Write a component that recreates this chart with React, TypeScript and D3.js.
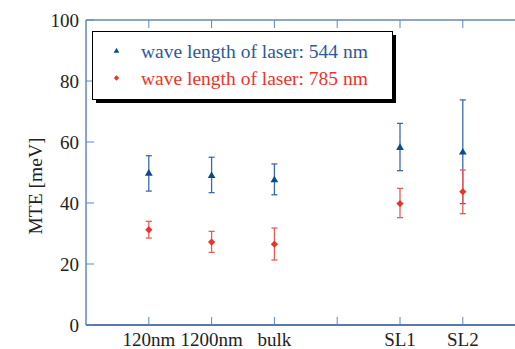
import * as d3 from "d3";
import React from "react";

const categories = ["120nm", "1200nm", "bulk", "SL1", "SL2"];
const catPos = [1, 2, 3, 5, 6];
const yTicks = [0, 20, 40, 60, 80, 100];
const xTickPos = [1, 2, 3, 4, 5, 6];

const blueVal = [49.7, 48.9, 47.5, 58.1, 56.6];
const blueLo = [43.9, 43.4, 42.7, 50.6, 39.8];
const blueHi = [55.5, 55.0, 52.8, 66.1, 73.8];

const redVal = [31.2, 27.2, 26.5, 39.8, 43.7];
const redLo = [28.5, 23.8, 21.3, 35.2, 36.5];
const redHi = [34.0, 30.7, 31.8, 44.8, 50.8];

const legendLabels = ["wave length of laser: 544 nm", "wave length of laser: 785 nm"];

const W = 515, H = 349;
const m = { l: 86, t: 20, b: 325 };
const BLUE = "#0b4a8b";
const BLUE_BAR = "#3a6aaa";
const RED = "#e8352c";
const RED_BAR = "#ee5a52";
const serif = { fontFamily: "'Liberation Serif', 'Times New Roman', serif" };

const App: React.FC = () => {
  const x = d3.scaleLinear([0, 7], [m.l, m.l + 7 * 62.8]);
  const y = d3.scaleLinear([0, 100], [m.b, m.t]);
  const tri = d3.symbol(d3.symbolTriangle, 26)()!;
  const triSmall = d3.symbol(d3.symbolTriangle, 14)()!;
  const dia = d3.symbol(d3.symbolSquare, 26)()!;
  const diaSmall = d3.symbol(d3.symbolSquare, 14)()!;

  const series = [
    { val: blueVal, lo: blueLo, hi: blueHi, color: BLUE, bar: BLUE_BAR, mark: tri, rot: 0 },
    { val: redVal, lo: redLo, hi: redHi, color: RED, bar: RED_BAR, mark: dia, rot: 45 },
  ];

  return (
    <svg width={W} height={H} style={{ position: "absolute", left: 0, top: 0 }}>
      <rect width={W} height={H} fill="#fff" />
      {/* axes frame */}
      <line x1={m.l} x2={W + 20} y1={m.t} y2={m.t} stroke="#1f4e8c" strokeWidth={1.2} />
      <line x1={m.l} x2={W + 20} y1={m.b} y2={m.b} stroke="#1f4e8c" strokeWidth={1.5} />
      <line x1={m.l} x2={m.l} y1={m.t} y2={m.b} stroke="#5a88c4" strokeWidth={1.5} />
      {xTickPos.map(p => (
        <g key={"xt" + p} stroke="#5a88c4" strokeWidth={1}>
          <line x1={x(p)} x2={x(p)} y1={m.b} y2={m.b - 8} />
          <line x1={x(p)} x2={x(p)} y1={m.t} y2={m.t + 8} />
        </g>
      ))}
      {yTicks.map(t => (
        <g key={"yt" + t}>
          <line x1={m.l} x2={m.l + 8} y1={y(t)} y2={y(t)} stroke="#5a88c4" strokeWidth={1} />
          <text x={79} y={y(t)} dy="0.35em" textAnchor="end" fontSize={19} fill="#222" style={serif}>{t}</text>
        </g>
      ))}
      {categories.map((c, i) => (
        <text key={c} x={x(catPos[i])} y={346} textAnchor="middle" fontSize={19} fill="#222" style={serif}>{c}</text>
      ))}
      <text transform={`translate(42, 186) rotate(-90)`} textAnchor="middle" fontSize={19.5} fill="#222" style={serif}>MTE [meV]</text>

      {/* data */}
      {series.map((s, si) => (
        <g key={"s" + si}>
          {s.val.map((v, i) => {
            const cx = x(catPos[i]);
            return (
              <g key={i}>
                <line x1={cx} x2={cx} y1={y(s.lo[i])} y2={y(s.hi[i])} stroke={s.bar} strokeWidth={1.3} />
                <line x1={cx - 3} x2={cx + 3} y1={y(s.lo[i])} y2={y(s.lo[i])} stroke={s.bar} strokeWidth={1.3} />
                <line x1={cx - 3} x2={cx + 3} y1={y(s.hi[i])} y2={y(s.hi[i])} stroke={s.bar} strokeWidth={1.3} />
                <path d={s.mark} transform={`translate(${cx},${y(v)}) rotate(${s.rot})`} fill={s.color} />
              </g>
            );
          })}
        </g>
      ))}

      {/* legend */}
      <rect x={96} y={35} width={300} height={68} fill="#000" />
      <rect x={92.5} y={31.5} width={300} height={68} fill="#fff" stroke="#000" strokeWidth={1} />
      <path d={triSmall} transform="translate(116.5,51)" fill={BLUE} />
      <path d={diaSmall} transform="translate(116.5,78) rotate(45)" fill={RED} />
      <text x={141} y={51} dy="0.35em" fontSize={19.5} fill="#2a5a9a" style={serif}>{legendLabels[0]}</text>
      <text x={141} y={78} dy="0.35em" fontSize={19.5} fill={RED} style={serif}>{legendLabels[1]}</text>
    </svg>
  );
};

export default App;
